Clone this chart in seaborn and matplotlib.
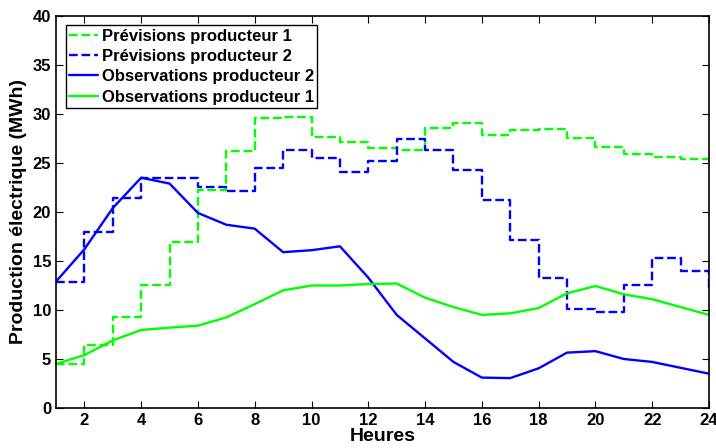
import matplotlib
matplotlib.use("Agg")
import matplotlib.pyplot as plt
import numpy as np
import pandas as pd
import seaborn as sns

hours = np.arange(1, 25)

# step-wise forecasts (value held from hour h to h+1)
prev_prod1 = [4.5, 6.4, 9.25, 12.5, 16.9, 22.2, 26.2, 29.6, 29.7, 27.7, 27.1, 26.5,
              26.3, 28.6, 29.1, 27.9, 28.4, 28.5, 27.5, 26.6, 25.9, 25.6, 25.4, 25.1]
prev_prod2 = [12.9, 18.0, 21.4, 23.5, 23.5, 22.5, 22.1, 24.5, 26.3, 25.5, 24.1, 25.2,
              27.4, 26.3, 24.3, 21.2, 17.1, 13.3, 10.1, 9.8, 12.5, 15.3, 14.0, 12.2]
# observations
obs_prod2 = [12.9, 16.2, 20.4, 23.5, 22.9, 19.9, 18.7, 18.3, 15.9, 16.1, 16.5, 13.3,
             9.5, 7.1, 4.7, 3.1, 3.05, 4.05, 5.65, 5.8, 5.0, 4.7, 4.1, 3.5]
obs_prod1 = [4.5, 5.4, 6.9, 7.96, 8.2, 8.4, 9.25, 10.6, 12.0, 12.5, 12.5, 12.65,
             12.7, 11.26, 10.3, 9.5, 9.66, 10.2, 11.7, 12.45, 11.6, 11.1, 10.3, 9.5]

GREEN = "#00ff00"
BLUE = "#0000ff"

sns.set_style("ticks")
plt.rcParams["font.family"] = ["Liberation Sans", "DejaVu Sans"]
plt.rcParams["font.weight"] = "bold"
plt.rcParams["text.color"] = "black"
plt.rcParams["axes.labelcolor"] = "black"
plt.rcParams["xtick.color"] = "black"
plt.rcParams["ytick.color"] = "black"

df = pd.DataFrame({
    "hour": hours,
    "prev1": prev_prod1,
    "prev2": prev_prod2,
    "obs2": obs_prod2,
    "obs1": obs_prod1,
})

fig = plt.figure(figsize=(7.16, 4.48), dpi=100)
ax = fig.add_axes([0.0782, 0.0893, 0.912, 0.875])

dash = (2.5, 2)
lw = 1.7
sns.lineplot(data=df, x="hour", y="prev1", ax=ax, color=GREEN, lw=lw,
             drawstyle="steps-post", label="Prévisions producteur 1",
             linestyle="--", dashes=dash)
sns.lineplot(data=df, x="hour", y="prev2", ax=ax, color=BLUE, lw=lw,
             drawstyle="steps-post", label="Prévisions producteur 2",
             linestyle="--", dashes=dash)
sns.lineplot(data=df, x="hour", y="obs2", ax=ax, color=BLUE, lw=lw,
             label="Observations producteur 2")
sns.lineplot(data=df, x="hour", y="obs1", ax=ax, color=GREEN, lw=lw,
             label="Observations producteur 1")

ax.set_xlim(1, 24)
ax.set_ylim(0, 40)
ax.set_xticks(np.arange(2, 25, 2))
ax.set_yticks(np.arange(0, 41, 5))
ax.tick_params(direction="in", top=True, right=True, length=5, width=0.8,
               labelsize=12, colors="black")
for lbl in ax.get_xticklabels() + ax.get_yticklabels():
    lbl.set_fontweight("bold")
for sp in ax.spines.values():
    sp.set_visible(True)
    sp.set_linewidth(1.2)
    sp.set_color("black")

ax.set_xlabel("Heures", fontsize=14, fontweight="bold", labelpad=0)
ax.set_ylabel("Production électrique (MWh)", fontsize=14, fontweight="bold", labelpad=4)

leg = ax.legend(loc="upper left", bbox_to_anchor=(0.01, 0.985), fancybox=False,
                edgecolor="black", framealpha=1, handlelength=1.7,
                borderpad=0.2, labelspacing=0.32, handletextpad=0.25,
                borderaxespad=0.2, prop={"weight": "bold", "size": 12})
leg.get_frame().set_linewidth(1.0)
for t in leg.get_texts():
    t.set_color("black")

fig.savefig("out.png", dpi=100)
